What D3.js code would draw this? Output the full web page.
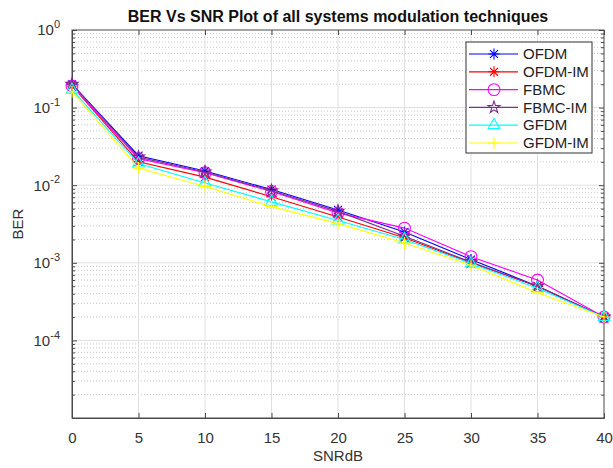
<!DOCTYPE html>
<html><head><meta charset="utf-8">
<script src="https://cdn.jsdelivr.net/npm/d3@7"></script>
<style>body{margin:0;background:#fff;}svg{display:block;font-family:"Liberation Sans",Arial,sans-serif;}</style>
</head><body><svg id="c" width="613" height="468"></svg>
<script>
const snr = [0, 5, 10, 15, 20, 25, 30, 35, 40];
const seriesNames = ["OFDM", "OFDM-IM", "FBMC", "FBMC-IM", "GFDM", "GFDM-IM"];
const ofdm    = [0.20, 0.024, 0.0152, 0.0088, 0.0048, 0.0025, 0.0011, 0.00050, 0.0002];
const ofdmIm  = [0.19, 0.020, 0.0127, 0.0071, 0.0039, 0.0021, 0.00100, 0.00050, 0.0002];
const fbmc    = [0.19, 0.022, 0.0145, 0.0083, 0.0044, 0.0028, 0.0012, 0.00060, 0.0002];
const fbmcIm  = [0.20, 0.023, 0.0148, 0.0085, 0.0046, 0.0022, 0.00102, 0.00050, 0.0002];
const gfdm    = [0.17, 0.019, 0.0107, 0.0061, 0.0035, 0.0020, 0.00098, 0.00047, 0.0002];
const gfdmIm  = [0.16, 0.0166, 0.0096, 0.0053, 0.0032, 0.0018, 0.00093, 0.00041, 0.0002];
const xTicks = [0, 5, 10, 15, 20, 25, 30, 35, 40];
const yTicks = [1, 0.1, 0.01, 0.001, 0.0001];
const yTickExps = ["0", "-1", "-2", "-3", "-4"];

const values = [ofdm, ofdmIm, fbmc, fbmcIm, gfdm, gfdmIm];
const colors = ["#0000ff", "#ff0000", "#ff00ff", "#7e2f8e", "#00ffff", "#ffff00"];
const markers = ["asterisk", "asterisk", "circle", "star", "triangle", "plus"];

const svg = d3.select("#c");
const L = 72, R = 604, T = 30, B = 418;
const x = d3.scaleLinear().domain([0, 40]).range([L, R]);
const y = d3.scaleLog().domain([1e-5, 1]).range([B, T]);

const minor = [];
for (let e = -5; e < 0; e++) for (let k = 2; k <= 9; k++) minor.push(k * Math.pow(10, e));

const grid = svg.append("g");
grid.selectAll("line.ym").data(minor).join("line")
  .attr("x1", L).attr("x2", R).attr("y1", d => y(d)).attr("y2", d => y(d))
  .attr("stroke", "#c8c8c8").attr("stroke-width", 1).attr("stroke-dasharray", "1,2");
grid.selectAll("line.yM").data(yTicks.slice(1)).join("line")
  .attr("x1", L).attr("x2", R).attr("y1", d => y(d)).attr("y2", d => y(d))
  .attr("stroke", "#e0e0e0").attr("stroke-width", 1);
grid.selectAll("line.xM").data(xTicks.slice(1, -1)).join("line")
  .attr("y1", T).attr("y2", B).attr("x1", d => x(d)).attr("x2", d => x(d))
  .attr("stroke", "#e0e0e0").attr("stroke-width", 1);

const axCol = "#4a4a4a";
const gx = svg.append("g").attr("transform", `translate(0,${B})`)
  .call(d3.axisBottom(x).tickValues(xTicks).tickSize(-5).tickPadding(14).tickFormat(d3.format("d")));
const gxt = svg.append("g").attr("transform", `translate(0,${T})`)
  .call(d3.axisTop(x).tickValues(xTicks).tickSize(-5).tickFormat(""));
const gy = svg.append("g").attr("transform", `translate(${L},0)`)
  .call(d3.axisLeft(y).tickValues(yTicks).tickSize(-5).tickPadding(12).tickFormat(""));
const gyr = svg.append("g").attr("transform", `translate(${R},0)`)
  .call(d3.axisRight(y).tickValues(yTicks).tickSize(-5).tickFormat(""));
const gym = svg.append("g").attr("transform", `translate(${L},0)`)
  .call(d3.axisLeft(y).tickValues(minor).tickSize(-3).tickFormat(""));
const gymr = svg.append("g").attr("transform", `translate(${R},0)`)
  .call(d3.axisRight(y).tickValues(minor).tickSize(-3).tickFormat(""));
[gx, gxt, gy, gyr, gym, gymr].forEach(g => {
  g.selectAll("path").attr("stroke", axCol).attr("stroke-width", 1);
  g.selectAll("line").attr("stroke", axCol);
  g.selectAll("text").attr("fill", "#333").attr("font-size", 15).attr("font-family", "Liberation Sans, Arial, sans-serif");
});
[gxt, gyr, gym, gymr].forEach(g => g.select("path.domain").remove());
svg.append("rect").attr("x", L).attr("y", T).attr("width", R - L).attr("height", B - T)
  .attr("fill", "none").attr("stroke", axCol).attr("stroke-width", 1);

gy.selectAll(".tick text").each(function(d, i) {
  const t = d3.select(this);
  t.text(null).attr("dy", "0.32em");
  t.append("tspan").text("10");
  t.append("tspan").attr("font-size", 11).attr("dy", "-0.65em").text(yTickExps[i]);
});

const line = d3.line().x((d, i) => x(snr[i])).y(d => y(d));
const sym = {
  asterisk: () => { const r = 5.5, a = r * 0.72; return `M${-r},0L${r},0M0,${-r}L0,${r}M${-a},${-a}L${a},${a}M${-a},${a}L${a},${-a}`; },
  circle: () => d3.symbol(d3.symbolCircle, 110)(),
  star: () => d3.symbol(d3.symbolStar, 45)(),
  triangle: () => d3.symbol(d3.symbolTriangle, 60)(),
  plus: () => "M-6,0L6,0M0,-6L0,6"
};
values.forEach((vals, si) => {
  const g = svg.append("g");
  g.append("path").datum(vals).attr("d", line).attr("fill", "none")
    .attr("stroke", colors[si]).attr("stroke-width", 1.1);
  g.selectAll("path.m").data(vals).join("path").attr("class", "m")
    .attr("transform", (d, i) => `translate(${x(snr[i])},${y(d)})`)
    .attr("d", sym[markers[si]]()).attr("fill", "none")
    .attr("stroke", colors[si]).attr("stroke-width", 1.1);
});

const lg = svg.append("g");
lg.append("rect").attr("x", 466).attr("y", 42).attr("width", 126).attr("height", 111)
  .attr("fill", "#fff").attr("stroke", "#333").attr("stroke-width", 1);
seriesNames.forEach((n, i) => {
  const yy = 54 + i * 17.8;
  lg.append("line").attr("x1", 469).attr("x2", 518).attr("y1", yy).attr("y2", yy)
    .attr("stroke", colors[i]).attr("stroke-width", 1.2);
  lg.append("path").attr("transform", `translate(494,${yy})`).attr("d", sym[markers[i]]())
    .attr("fill", "none").attr("stroke", colors[i]).attr("stroke-width", 1.1);
  lg.append("text").attr("x", 523).attr("y", yy).attr("dy", "0.35em").attr("font-size", 15)
    .attr("fill", "#222").text(n);
});

svg.append("text").attr("x", (L + R) / 2).attr("y", 22).attr("text-anchor", "middle")
  .attr("font-size", 16).attr("font-weight", "bold").attr("fill", "#111")
  .text("BER Vs SNR Plot of all systems modulation techniques");
svg.append("text").attr("x", (L + R) / 2).attr("y", 461).attr("text-anchor", "middle")
  .attr("font-size", 15).attr("fill", "#333").text("SNRdB");
svg.append("text").attr("transform", `translate(23,${(T + B) / 2}) rotate(-90)`).attr("text-anchor", "middle")
  .attr("font-size", 15).attr("fill", "#333").text("BER");
</script></body></html>
